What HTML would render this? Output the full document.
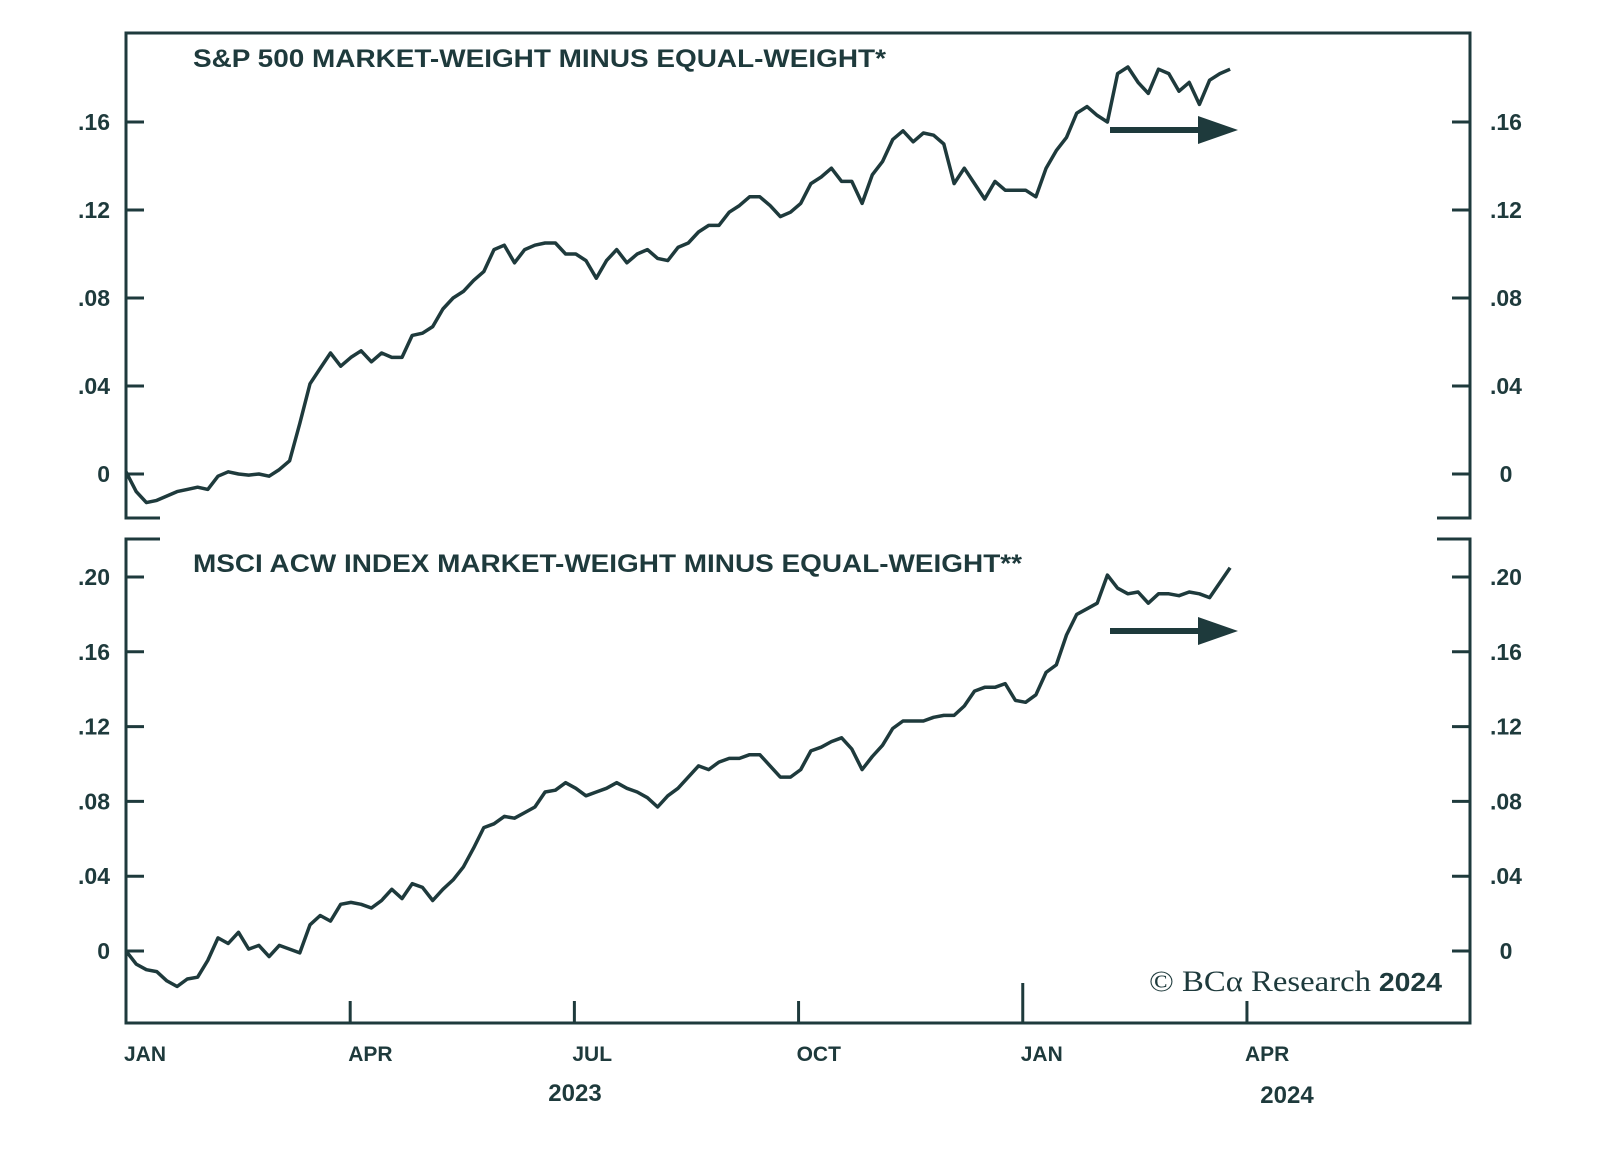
<!DOCTYPE html>
<html><head><meta charset="utf-8"><style>
html,body{margin:0;padding:0;background:#fff;}
svg{display:block;}
text{font-family:"Liberation Sans",sans-serif;fill:#1e3a3c;}
</style></head><body>
<svg id="chart" width="1600" height="1151" viewBox="0 0 1600 1151" xmlns="http://www.w3.org/2000/svg">
<g id="frame" stroke="#1e3a3c" stroke-width="3" fill="none">
  <path d="M160,518 H126 V33 H1470 V518 H1437"/>
  <path d="M160,539 H126 V1023 H1470 V539 H1437"/>
</g>
<text x="193" y="67" font-size="25" font-weight="bold" textLength="693" lengthAdjust="spacingAndGlyphs">S&amp;P 500 MARKET-WEIGHT MINUS EQUAL-WEIGHT*</text>
<text x="193" y="572" font-size="25" font-weight="bold" textLength="829" lengthAdjust="spacingAndGlyphs">MSCI ACW INDEX MARKET-WEIGHT MINUS EQUAL-WEIGHT**</text>
<g id="axes"></g>
<g id="series"></g>
<g>
  <rect x="1110" y="127" width="100" height="6" fill="#1e3a3c"/>
  <polygon points="1198,116 1238,130 1198,144" fill="#1e3a3c"/>
</g>
<g>
  <rect x="1110" y="628" width="100" height="6" fill="#1e3a3c"/>
  <polygon points="1198,617 1238,631 1198,645" fill="#1e3a3c"/>
</g>
<text x="1149" y="991" font-size="30" textLength="293" lengthAdjust="spacingAndGlyphs"><tspan font-family="Liberation Serif, serif">© BCα Research</tspan><tspan font-weight="bold" font-size="26"> 2024</tspan></text>
</svg>
<script>
const quarterLabels = ["JAN","APR","JUL","OCT","JAN","APR"];
const yearLabels = ["2023","2024"];
const topTicks = [0, 0.04, 0.08, 0.12, 0.16];
const topTickLabels = ["0",".04",".08",".12",".16"];
const bottomTicks = [0, 0.04, 0.08, 0.12, 0.16, 0.20];
const bottomTickLabels = ["0",".04",".08",".12",".16",".20"];
const stepMonths = 0.1368;
const spxValues = [0.001,-0.008,-0.013,-0.012,-0.010,-0.008,-0.007,-0.006,-0.007,-0.001,0.001,0.000,-0.0005,0.000,-0.001,0.002,0.006,0.023,0.041,0.048,0.055,0.049,0.053,0.056,0.051,0.055,0.053,0.053,0.063,0.064,0.067,0.075,0.080,0.083,0.088,0.092,0.102,0.104,0.096,0.102,0.104,0.105,0.105,0.100,0.100,0.097,0.089,0.097,0.102,0.096,0.100,0.102,0.098,0.097,0.103,0.105,0.110,0.113,0.113,0.119,0.122,0.126,0.126,0.122,0.117,0.119,0.123,0.132,0.135,0.139,0.133,0.133,0.123,0.136,0.142,0.152,0.156,0.151,0.155,0.154,0.150,0.132,0.139,0.132,0.125,0.133,0.129,0.129,0.129,0.126,0.139,0.147,0.153,0.164,0.167,0.163,0.160,0.182,0.185,0.178,0.173,0.184,0.182,0.174,0.178,0.168,0.179,0.182,0.184];
const acwValues = [0,-0.007,-0.010,-0.011,-0.016,-0.019,-0.015,-0.014,-0.005,0.007,0.004,0.010,0.001,0.003,-0.003,0.003,0.001,-0.001,0.014,0.019,0.016,0.025,0.026,0.025,0.023,0.027,0.033,0.028,0.036,0.034,0.027,0.033,0.038,0.045,0.055,0.066,0.068,0.072,0.071,0.074,0.077,0.085,0.086,0.090,0.087,0.083,0.085,0.087,0.090,0.087,0.085,0.082,0.077,0.083,0.087,0.093,0.099,0.097,0.101,0.103,0.103,0.105,0.105,0.099,0.093,0.093,0.097,0.107,0.109,0.112,0.114,0.108,0.097,0.104,0.110,0.119,0.123,0.123,0.123,0.125,0.126,0.126,0.131,0.139,0.141,0.141,0.143,0.134,0.133,0.137,0.149,0.153,0.169,0.180,0.183,0.186,0.201,0.194,0.191,0.192,0.186,0.191,0.191,0.190,0.192,0.191,0.189,0.197,0.205];

const NS = "http://www.w3.org/2000/svg";
const C = "#1e3a3c";
const xMonth = m => 126 + m * 74.73;
const yTop = v => 474 - v * (474 - 122) / 0.16;
const yBot = v => 951 - v * (951 - 577) / 0.20;
const axes = document.getElementById('axes');
const series = document.getElementById('series');
function mk(tag, attrs, parent) {
  const e = document.createElementNS(NS, tag);
  for (const k in attrs) e.setAttribute(k, attrs[k]);
  parent.appendChild(e);
  return e;
}
function yAxis(ticks, labels, yf, panel) {
  ticks.forEach((t, i) => {
    const y = yf(t);
    const l = mk('line', {x1:126, x2:144, y1:y, y2:y, stroke:C, 'stroke-width':3}, axes);
    
    
    const r = mk('line', {x1:1452, x2:1470, y1:y, y2:y, stroke:C, 'stroke-width':3}, axes);
    
    
    const tl = mk('text', {x:110, y:y + 8, 'font-size':23, 'font-weight':'bold', 'text-anchor':'end'}, axes);
    tl.textContent = labels[i];
    
    
    const tr = mk('text', {x:1506, y:y + 8, 'font-size':23, 'font-weight':'bold', 'text-anchor':'middle'}, axes);
    tr.textContent = labels[i];
    
    
  });
}
yAxis(topTicks, topTickLabels, yTop, 'top');
yAxis(bottomTicks, bottomTickLabels, yBot, 'bottom');

quarterLabels.forEach((q, i) => {
  const x = xMonth(i * 3);
  if (i > 0) {
    const tk = mk('line', {x1:x, x2:x, y1:1023, y2:(i === 4 ? 983 : 1001), stroke:C, 'stroke-width':3}, axes);
    
    
  }
  const t = mk('text', {x:x - 2, y:1061, 'font-size':21, 'font-weight':'bold'}, axes);
  t.textContent = q;
  
  
});
yearLabels.forEach((yl, i) => {
  const t = mk('text', {x:i ? 1287 : 575, y:i ? 1103 : 1101, 'font-size':24, 'font-weight':'bold', 'text-anchor':'middle'}, axes);
  t.textContent = yl;
  
  
});

function line(vals, yf, name) {
  const d = vals.map((v, i) => (i ? 'L' : 'M') + xMonth(i * stepMonths).toFixed(1) + ',' + yf(v).toFixed(1)).join(' ');
  const p = mk('path', {d:d, fill:'none', stroke:C, 'stroke-width':3.5, 'stroke-linejoin':'round'}, series);
  
  
}
line(spxValues, yTop, 'sp500-mw-minus-ew-line');
line(acwValues, yBot, 'msci-acwi-mw-minus-ew-line');
</script>
</body></html>
